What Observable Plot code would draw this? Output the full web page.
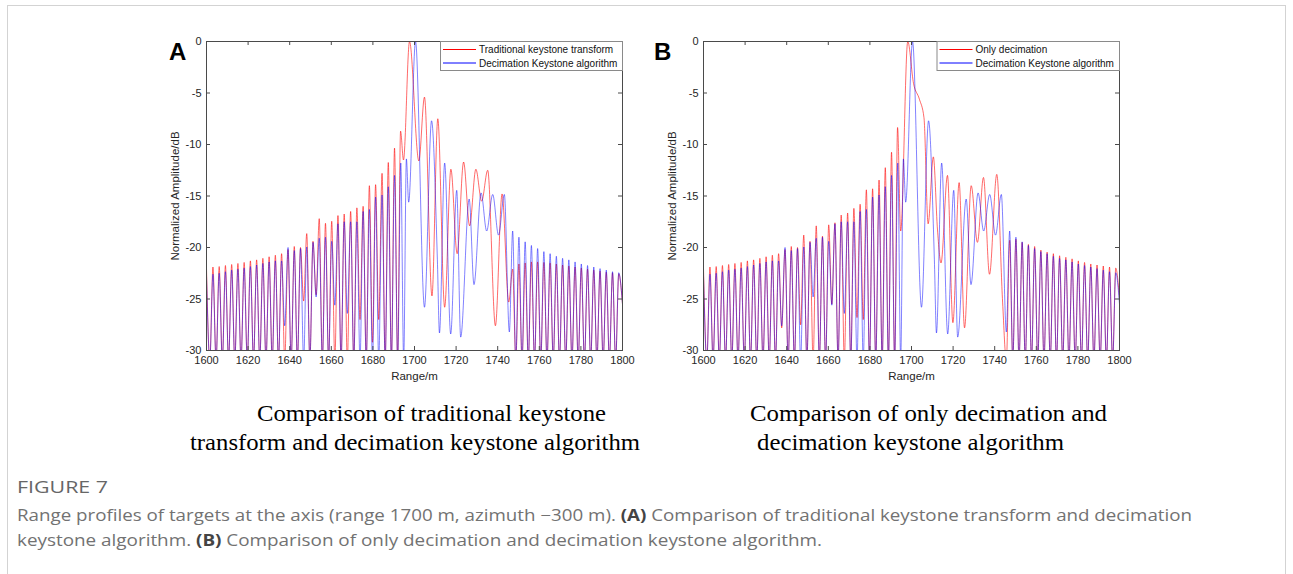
<!DOCTYPE html>
<html><head><meta charset="utf-8">
<script src="https://cdn.jsdelivr.net/npm/d3@7"></script>
<script src="https://cdn.jsdelivr.net/npm/@observablehq/plot@0.6"></script>
<style>
html,body{margin:0;padding:0;background:#fff;}
body{width:1293px;height:574px;overflow:hidden;position:relative;}
#box{position:absolute;left:7px;top:5px;width:1279px;height:620px;border:1px solid #d3d3d3;box-sizing:border-box;}
.panel{position:absolute;top:20px;}
#overlay{position:absolute;left:0;top:0;}
</style></head><body>
<div id="box"></div>
<div id="pa" class="panel" style="left:150px"></div>
<div id="pb" class="panel" style="left:647px"></div>
<svg id="overlay" width="1293" height="574"></svg>
<script>
// ---------- data ----------
const xTicks = [1600,1620,1640,1660,1680,1700,1720,1740,1760,1780,1800];
const yTicks = [0,-5,-10,-15,-20,-25,-30];

// Decimation Keystone algorithm (blue) – vertices [range m, dB] (peaks, dips, nulls; -31 = null below axis)
const blueSeries = [
[1600.0,-22.7],[1601.6,-31],[1603.1,-22.6],[1604.6,-31],[1606.1,-22.5],[1607.6,-31],
[1609.1,-22.35],[1610.6,-31],[1612.1,-22.2],[1613.6,-31],[1615.1,-22.1],[1616.6,-31],
[1618.1,-22.0],[1619.6,-31],[1621.1,-21.85],[1622.6,-31],[1624.1,-21.7],[1625.6,-31],
[1627.1,-21.55],[1628.6,-31],[1630.1,-21.4],[1631.6,-31],[1633.1,-21.3],[1634.6,-31],
[1636.1,-21.3],[1637.6,-27.6],[1639.2,-20.0],[1640.7,-31],[1642.2,-20.3],[1643.7,-31],
[1645.2,-20.1],[1646.7,-31],[1648.2,-19.95],[1649.7,-31],[1651.2,-19.5],[1652.7,-24.8],
[1654.2,-19.1],[1655.7,-31],[1657.2,-19.0],[1658.7,-31],[1660.2,-19.4],[1661.7,-25.6],
[1663.2,-17.7],[1664.7,-31],[1666.2,-17.5],[1667.7,-26.4],[1669.3,-17.5],[1670.8,-31],
[1672.3,-17.5],[1673.8,-31],[1675.3,-16.5],[1676.8,-31],[1678.3,-16.3],[1679.8,-31],
[1681.3,-15.1],[1682.8,-31],[1684.4,-14.9],[1685.9,-31],[1687.4,-14.1],[1688.9,-31],
[1690.4,-13.0],[1691.9,-31],[1693.4,-11.8],[1694.8,-31],[1696.1,-11.4],[1697.2,-15.6],
[1700.5,0],[1704.8,-25.8],[1708.2,-7.7],[1711.0,-21.2],[1712.0,-28.3],[1714.5,-11.8],
[1717.4,-28.4],[1720.3,-14.45],[1722.2,-28.7],[1726.3,-15.3],[1728.6,-23.6],[1732.0,-14.7],
[1734.7,-18.4],[1737.6,-14.85],[1740.4,-18.8],[1743.2,-14.85],[1745.6,-28.2],
[1747.2,-18.4],[1748.7,-31],[1750.2,-19.0],[1751.7,-31],[1753.2,-19.45],[1754.7,-31],
[1756.2,-19.8],[1757.7,-31],[1759.2,-20.1],[1760.7,-31],[1762.2,-20.4],[1763.7,-31],
[1765.2,-20.6],[1766.7,-31],[1768.2,-20.85],[1769.7,-31],[1771.2,-21.05],[1772.7,-31],
[1774.2,-21.2],[1775.7,-31],[1777.2,-21.4],[1778.7,-31],[1780.2,-21.6],[1781.7,-31],
[1783.2,-21.75],[1784.7,-31],[1786.2,-21.9],[1787.7,-31],[1789.2,-22.05],[1790.7,-31],
[1792.2,-22.2],[1793.7,-31],[1795.2,-22.35],[1796.7,-31],[1798.2,-22.45],[1800.0,-25.5]
];

// Traditional keystone transform (red, panel A)
const redTraditional = [
[1600.0,-22.0],[1601.6,-31],[1603.1,-21.9],[1604.6,-31],[1606.1,-21.85],[1607.6,-31],
[1609.1,-21.75],[1610.6,-31],[1612.1,-21.65],[1613.6,-31],[1615.1,-21.55],[1616.6,-31],
[1618.1,-21.45],[1619.6,-31],[1621.1,-21.3],[1622.6,-31],[1624.1,-21.2],[1625.6,-31],
[1627.1,-21.05],[1628.6,-31],[1630.1,-20.9],[1631.6,-31],[1633.1,-20.75],[1634.6,-31],
[1636.1,-20.6],[1637.6,-31],[1639.2,-20.2],[1640.7,-31],[1642.2,-19.9],[1643.7,-31],
[1645.2,-20.0],[1646.7,-25.2],[1648.2,-18.65],[1649.7,-31],[1651.2,-19.4],[1652.7,-24.6],
[1654.2,-17.2],[1655.7,-31],[1657.2,-17.65],[1658.7,-31],[1660.2,-17.45],[1661.7,-31],
[1663.2,-16.9],[1664.7,-31],[1666.2,-16.75],[1667.7,-31],[1669.3,-16.5],[1670.8,-31],
[1672.3,-16.15],[1673.8,-27.0],[1675.3,-16.0],[1676.8,-31],[1678.3,-14.0],[1679.8,-29.2],
[1681.3,-13.9],[1682.8,-27.0],[1684.4,-12.8],[1685.9,-31],[1687.4,-11.75],[1688.9,-31],
[1690.4,-10.35],[1691.9,-31],[1693.3,-8.7],[1694.7,-11.5],[1697.6,0],[1702.1,-11.6],
[1704.8,-5.4],[1708.4,-24.7],[1711.2,-7.5],[1714.5,-25.8],[1717.5,-12.4],[1720.5,-20.6],
[1723.6,-11.7],[1726.5,-17.9],[1729.5,-12.4],[1732.3,-15.5],[1735.2,-12.5],[1738.9,-27.6],
[1742.1,-14.8],[1745.3,-25.3],
[1747.2,-22.1],[1748.7,-31],[1750.2,-21.6],[1751.7,-31],[1753.2,-21.5],[1754.7,-31],
[1756.2,-21.4],[1757.7,-31],[1759.2,-21.4],[1760.7,-31],[1762.2,-21.45],[1763.7,-31],
[1765.2,-21.5],[1766.7,-31],[1768.2,-21.6],[1769.7,-31],[1771.2,-21.7],[1772.7,-31],
[1774.2,-21.8],[1775.7,-31],[1777.2,-21.9],[1778.7,-31],[1780.2,-22.0],[1781.7,-31],
[1783.2,-22.1],[1784.7,-31],[1786.2,-22.2],[1787.7,-31],[1789.2,-22.3],[1790.7,-31],
[1792.2,-22.4],[1793.7,-31],[1795.2,-22.45],[1796.7,-31],[1798.2,-22.55],[1800.0,-25.5]
];

// Only decimation (red, panel B)
const redDecimation = [
[1600.0,-22.0],[1601.6,-31],[1603.1,-21.9],[1604.6,-31],[1606.1,-21.85],[1607.6,-31],
[1609.1,-21.75],[1610.6,-31],[1612.1,-21.65],[1613.6,-31],[1615.1,-21.55],[1616.6,-31],
[1618.1,-21.45],[1619.6,-31],[1621.1,-21.3],[1622.6,-31],[1624.1,-21.2],[1625.6,-31],
[1627.1,-21.05],[1628.6,-31],[1630.1,-20.9],[1631.6,-31],[1633.1,-20.75],[1634.6,-31],
[1636.1,-20.6],[1637.6,-27.8],[1639.2,-20.2],[1640.7,-31],[1642.2,-19.9],[1643.7,-31],
[1645.2,-20.0],[1646.7,-27.5],[1648.2,-18.8],[1649.7,-31],[1651.2,-19.4],[1652.7,-31],
[1654.2,-17.9],[1655.7,-31],[1657.2,-18.9],[1658.7,-31],[1660.2,-17.8],[1661.7,-25.5],
[1663.2,-17.6],[1664.7,-31],[1666.2,-16.85],[1667.7,-31],[1669.3,-16.65],[1670.8,-31],
[1672.3,-16.2],[1673.8,-26.8],[1675.3,-15.8],[1676.8,-27.0],[1678.3,-14.4],[1679.8,-31],
[1681.3,-14.3],[1682.8,-31],[1684.4,-13.45],[1685.9,-31],[1687.4,-12.25],[1688.9,-31],
[1690.4,-10.75],[1691.9,-31],[1693.3,-8.35],[1694.8,-18.4],[1698.2,0],[1701.0,-4.1],
[1703.8,-5.6],[1706.0,-7.4],[1708.0,-17.7],[1710.5,-11.2],[1712.5,-18.3],[1714.2,-21.5],
[1717.3,-13.0],[1719.9,-27.3],[1722.9,-13.7],[1725.5,-27.8],[1728.7,-14.0],[1731.7,-19.5],
[1734.6,-13.2],[1737.5,-22.6],[1741.0,-12.9],[1743.8,-25.3],[1745.6,-31],
[1747.2,-19.3],[1748.7,-31],[1750.2,-19.2],[1751.7,-31],[1753.2,-19.5],[1754.7,-31],
[1756.2,-19.7],[1757.7,-31],[1759.2,-19.9],[1760.7,-31],[1762.2,-20.25],[1763.7,-31],
[1765.2,-20.45],[1766.7,-31],[1768.2,-20.6],[1769.7,-31],[1771.2,-20.8],[1772.7,-31],
[1774.2,-20.95],[1775.7,-31],[1777.2,-21.1],[1778.7,-31],[1780.2,-21.3],[1781.7,-31],
[1783.2,-21.45],[1784.7,-31],[1786.2,-21.6],[1787.7,-31],[1789.2,-21.7],[1790.7,-31],
[1792.2,-21.8],[1793.7,-31],[1795.2,-21.9],[1796.7,-31],[1798.2,-22.0],[1800.0,-25.0]
];

const legendA = ["Traditional keystone transform","Decimation Keystone algorithm"];
const legendB = ["Only decimation","Decimation Keystone algorithm"];
const subtitleA = ["Comparison of traditional keystone","transform and decimation keystone algorithm"];
const subtitleB = ["Comparison of only decimation and","decimation keystone algorithm"];

// ---------- drawing ----------
const W = 490, H = 370, ML = 56, MR = 18, MT = 21, MB = 40;
const innerW = W - ML - MR, innerH = H - MT - MB;
const axisColor = "#4a4a4a";
const fontSans = "'Liberation Sans', Arial, Helvetica, sans-serif";

function panel(red) {
  return Plot.plot({
    width: W, height: H, marginLeft: ML, marginRight: MR, marginTop: MT, marginBottom: MB,
    x: {domain: [1600, 1800]},
    y: {domain: [-30, 0]},
    style: {fontFamily: fontSans, fontSize: "11px", color: "#262626", background: "transparent", overflow: "visible"},
    marks: [
      Plot.line(red, {x: d => d[0], y: d => d[1], stroke: "#ff0000", strokeWidth: 0.9, strokeOpacity: 0.65, curve: "monotone-x", clip: true}),
      Plot.line(blueSeries, {x: d => d[0], y: d => d[1], stroke: "#0000ff", strokeWidth: 0.9, strokeOpacity: 0.55, curve: "monotone-x", clip: true}),
      Plot.ruleX(xTicks, {x: d => d, insetTop: innerH - 4, stroke: axisColor}),
      Plot.ruleX(xTicks, {x: d => d, insetBottom: innerH - 4, stroke: axisColor}),
      Plot.ruleY(yTicks, {y: d => d, insetLeft: innerW - 4, stroke: axisColor}),
      Plot.ruleY(yTicks, {y: d => d, insetRight: innerW - 4, stroke: axisColor}),
      Plot.frame({stroke: axisColor}),
      Plot.axisX({ticks: xTicks, tickSize: 0, tickPadding: 6, tickFormat: d => String(d), label: null}),
      Plot.axisY({ticks: yTicks, tickSize: 0, tickPadding: 5, tickFormat: d => String(d), label: null}),
      Plot.text(["Range/m"], {frameAnchor: "bottom", dy: 29, text: d => d, fontSize: 11.5}),
      Plot.text(["Normalized Amplitude/dB"], {frameAnchor: "left", dx: -31, rotate: -90, textAnchor: "middle", text: d => d, fontSize: 11.5})
    ]
  });
}
document.getElementById("pa").appendChild(panel(redTraditional));
document.getElementById("pb").appendChild(panel(redDecimation));

// ---------- overlay texts: legends, panel letters, subtitles, caption ----------
const ov = d3.select("#overlay");
function legend(x0, x1, labels) {
  const g = ov.append("g");
  g.append("rect").attr("x", x0 + 0.5).attr("y", 41.5).attr("width", x1 - x0).attr("height", 29)
    .attr("fill", "#fff").attr("stroke", "#8a8a8a").attr("stroke-width", 1);
  const colors = ["#ff0000", "#0000ff"];
  labels.forEach((t, i) => {
    const y = 49.5 + i * 13.5;
    g.append("line").attr("x1", x0 + 3).attr("x2", x0 + 36).attr("y1", y).attr("y2", y)
      .attr("stroke", colors[i]).attr("stroke-width", 1);
    g.append("text").attr("x", x0 + 39).attr("y", y + 3.5).text(t)
      .attr("font-family", fontSans).attr("font-size", 10).attr("fill", "#111");
  });
}
legend(440, 622, legendA);
legend(936.5, 1119, legendB);

ov.append("text").attr("x", 169).attr("y", 60).text("A").attr("font-family", fontSans)
  .attr("font-weight", "bold").attr("font-size", 24).attr("fill", "#000");
ov.append("text").attr("x", 654).attr("y", 60).text("B").attr("font-family", fontSans)
  .attr("font-weight", "bold").attr("font-size", 24).attr("fill", "#000");

const serif = "'Liberation Serif', 'Times New Roman', serif";
function sub(x, y, t, len) {
  ov.append("text").attr("x", x).attr("y", y).text(t).attr("font-family", serif).attr("font-size", 24)
    .attr("fill", "#000").attr("textLength", len).attr("lengthAdjust", "spacingAndGlyphs");
}
sub(257, 421, subtitleA[0], 349);
sub(190, 450, subtitleA[1], 450);
sub(750, 421, subtitleB[0], 357);
sub(757, 450, subtitleB[1], 307);

const capFont = "'Open Sans', 'Noto Sans', sans-serif";
ov.append("text").attr("x", 17).attr("y", 493).text("FIGURE 7").attr("font-family", capFont)
  .attr("font-size", 16).attr("fill", "#666").attr("textLength", 91).attr("lengthAdjust", "spacingAndGlyphs");
const c1 = ov.append("text").attr("x", 17).attr("y", 521).attr("font-family", capFont).attr("font-size", 16)
  .attr("fill", "#727272").attr("textLength", 1175).attr("lengthAdjust", "spacingAndGlyphs");
c1.append("tspan").text("Range profiles of targets at the axis (range 1700 m, azimuth \u2212300 m). ");
c1.append("tspan").text("(A)").attr("font-weight", "bold").attr("fill", "#444");
c1.append("tspan").text(" Comparison of traditional keystone transform and decimation");
const c2 = ov.append("text").attr("x", 17).attr("y", 546).attr("font-family", capFont).attr("font-size", 16)
  .attr("fill", "#727272").attr("textLength", 805).attr("lengthAdjust", "spacingAndGlyphs");
c2.append("tspan").text("keystone algorithm. ");
c2.append("tspan").text("(B)").attr("font-weight", "bold").attr("fill", "#444");
c2.append("tspan").text(" Comparison of only decimation and decimation keystone algorithm.");
</script>
</body></html>
